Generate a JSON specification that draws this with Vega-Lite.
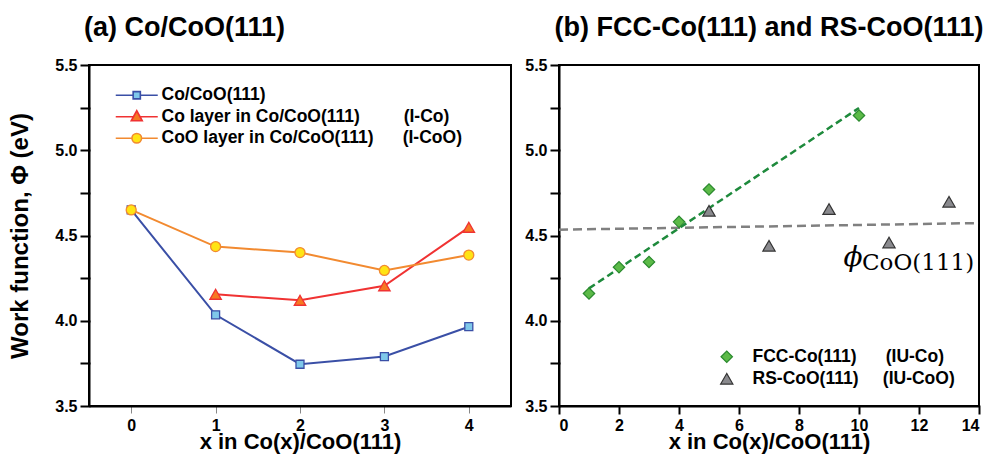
{
  "$schema": "https://vega.github.io/schema/vega-lite/v6.json",
  "background": "white",
  "padding": {"left": 7, "top": 13, "right": 5, "bottom": 5},
  "spacing": 11,
  "resolve": {
    "scale": {"color": "independent", "shape": "independent", "fill": "independent", "stroke": "independent", "size": "independent"},
    "legend": {"color": "independent", "shape": "independent", "fill": "independent", "stroke": "independent", "size": "independent"}
  },
  "config": {
    "view": {"stroke": "black", "strokeWidth": 2},
    "font": "Liberation Sans",
    "axis": {
      "domainColor": "black", "domainWidth": 2,
      "grid": false, "labelFont": "Liberation Sans", "labelFontWeight": "bold", "labelFontSize": 16,
      "labelColor": "black", "titleFont": "Liberation Sans", "titleFontWeight": "bold", "titleColor": "black",
      "labelPadding": 4
    },
    "title": {"font": "Liberation Sans", "fontWeight": "bold", "fontSize": 27, "color": "black", "baseline": "alphabetic", "offset": 15, "frame": "group"}
  },
  "datasets": {
    "left": [
      {"x": 0, "y": 4.65, "series": "Co/CoO(111)"},
      {"x": 1, "y": 4.035, "series": "Co/CoO(111)"},
      {"x": 2, "y": 3.745, "series": "Co/CoO(111)"},
      {"x": 3, "y": 3.79, "series": "Co/CoO(111)"},
      {"x": 4, "y": 3.965, "series": "Co/CoO(111)"},
      {"x": 1, "y": 4.155, "series": "Co layer in Co/CoO(111)"},
      {"x": 2, "y": 4.12, "series": "Co layer in Co/CoO(111)"},
      {"x": 3, "y": 4.205, "series": "Co layer in Co/CoO(111)"},
      {"x": 4, "y": 4.548, "series": "Co layer in Co/CoO(111)"},
      {"x": 0, "y": 4.65, "series": "CoO layer in Co/CoO(111)"},
      {"x": 1, "y": 4.435, "series": "CoO layer in Co/CoO(111)"},
      {"x": 2, "y": 4.4, "series": "CoO layer in Co/CoO(111)"},
      {"x": 3, "y": 4.295, "series": "CoO layer in Co/CoO(111)"},
      {"x": 4, "y": 4.385, "series": "CoO layer in Co/CoO(111)"}
    ],
    "right": [
      {"x": 1, "y": 4.16, "series": "FCC-Co(111)"},
      {"x": 2, "y": 4.314, "series": "FCC-Co(111)"},
      {"x": 3, "y": 4.345, "series": "FCC-Co(111)"},
      {"x": 4, "y": 4.58, "series": "FCC-Co(111)"},
      {"x": 5, "y": 4.77, "series": "FCC-Co(111)"},
      {"x": 10, "y": 5.204, "series": "FCC-Co(111)"},
      {"x": 5, "y": 4.645, "series": "RS-CoO(111)"},
      {"x": 7, "y": 4.44, "series": "RS-CoO(111)"},
      {"x": 9, "y": 4.655, "series": "RS-CoO(111)"},
      {"x": 11, "y": 4.459, "series": "RS-CoO(111)"},
      {"x": 13, "y": 4.698, "series": "RS-CoO(111)"}
    ],
    "philine": [
      {"x": 0, "y": 4.534},
      {"x": 14, "y": 4.573}
    ],
    "notes": [
      {"part": "phi", "label": "ϕ"},
      {"part": "sub", "label": "CoO(111)"}
    ]
  },
  "hconcat": [
    {
      "width": 422,
      "height": 341,
      "title": {"text": "(a) Co/CoO(111)", "anchor": "start", "dx": -5},
      "data": {"name": "left"},
      "encoding": {
        "x": {"field": "x", "type": "quantitative",
          "scale": {"domain": [-0.5, 4.5], "nice": false, "zero": false},
          "axis": {"values": [0, 1, 2, 3, 4], "tickSize": 7,
            "labelPadding": 4, "title": "x in Co(x)/CoO(111)", "titleFontSize": 22, "titlePadding": -2}},
        "y": {"field": "y", "type": "quantitative",
          "scale": {"domain": [3.5, 5.5], "nice": false, "zero": false},
          "axis": {"values": [3.5, 3.75, 4, 4.25, 4.5, 4.75, 5, 5.25, 5.5],
            "labelExpr": "(datum.value * 4) % 2 == 0 ? format(datum.value, '.1f') : ''",
            "ticks": true, "tickSize": 8, "tickColor": "#000000", "tickWidth": 2, "tickCap": "square",
            "title": "Work function, Φ (eV)", "titleFontSize": 24, "titlePadding": 22}}
      },
      "layer": [
        {
          "mark": {"type": "line", "strokeWidth": 2},
          "encoding": {
            "color": {"field": "series", "type": "nominal",
              "scale": {"domain": ["Co/CoO(111)", "Co layer in Co/CoO(111)", "CoO layer in Co/CoO(111)"], "range": ["#3a4fa6", "#f03232", "#f28a30"]},
              "legend": {
                "title": null, "orient": "none", "legendX": 39, "legendY": 21.5, "padding": 0,
                "symbolSize": 64, "symbolStrokeWidth": 1.5, "labelOffset": 16, "rowPadding": 2.5,
                "labelFont": "Liberation Sans", "labelFontSize": 17.5, "labelFontWeight": "bold", "labelColor": "black", "labelLimit": 400,
                "labelExpr": "datum.value == 'Co layer in Co/CoO(111)' ? datum.value + '\u00a0\u00a0\u00a0\u00a0\u00a0\u00a0\u00a0\u00a0\u00a0(I-Co)' : datum.value == 'CoO layer in Co/CoO(111)' ? datum.value + '\u00a0\u00a0\u00a0\u00a0\u00a0\u00a0(I-CoO)' : datum.value",
                "encode": {"symbols": {"update": {
                  "shape": {"signal": "datum.value == 'Co/CoO(111)' ? 'M-5.25,0H-0.9M0.9,0H5.25M-0.9,-0.9H0.9V0.9H-0.9Z' : datum.value == 'Co layer in Co/CoO(111)' ? 'M-5.25,0H-0.825M0.825,0H5.25M0,-1.5L1.375,1L-1.375,1Z' : 'M-5.25,0H-1.2M1.2,0H5.25M-1.2,0A1.2,1.2,0,1,1,1.2,0A1.2,1.2,0,1,1,-1.2,0Z'"},
                  "fill": {"signal": "datum.value == 'Co/CoO(111)' ? '#7fc8ea' : datum.value == 'Co layer in Co/CoO(111)' ? '#f57a22' : '#ffe414'"},
                  "stroke": {"signal": "datum.value == 'Co/CoO(111)' ? '#3a4fa6' : datum.value == 'Co layer in Co/CoO(111)' ? '#f03232' : '#f28a30'"},
                  "strokeWidth": {"value": 1.6},
                  "size": {"value": 64},
                  "fillOpacity": {"value": 1},
                  "strokeOpacity": {"value": 1},
                  "opacity": {"value": 1}
                }}}
              }}
          }
        },
        {
          "mark": {"type": "point", "filled": true, "opacity": 1, "strokeWidth": 1.3},
          "encoding": {
            "shape": {"field": "series", "type": "nominal", "legend": null,
              "scale": {"domain": ["CoO layer in Co/CoO(111)", "Co layer in Co/CoO(111)", "Co/CoO(111)"], "range": ["circle", "triangle-up", "square"]}},
            "size": {"field": "series", "type": "nominal", "legend": null,
              "scale": {"type": "ordinal", "domain": ["CoO layer in Co/CoO(111)", "Co layer in Co/CoO(111)", "Co/CoO(111)"], "range": [100, 130, 64]}},
            "fill": {"field": "series", "type": "nominal", "legend": null,
              "scale": {"domain": ["CoO layer in Co/CoO(111)", "Co layer in Co/CoO(111)", "Co/CoO(111)"], "range": ["#ffe414", "#f57a22", "#7fc8ea"]}},
            "stroke": {"field": "series", "type": "nominal", "legend": null,
              "scale": {"domain": ["CoO layer in Co/CoO(111)", "Co layer in Co/CoO(111)", "Co/CoO(111)"], "range": ["#f28a30", "#f03232", "#3a4fa6"]}}
          }
        }
      ]
    },
    {
      "width": 420,
      "height": 341,
      "title": {"text": "(b) FCC-Co(111) and RS-CoO(111)", "anchor": "middle", "dx": 0},
      "layer": [
        {
          "data": {"name": "philine"},
          "mark": {"type": "line", "color": "#808080", "strokeWidth": 2.5, "strokeDash": [9, 5]},
          "encoding": {
            "x": {"field": "x", "type": "quantitative",
              "scale": {"domain": [0, 14], "nice": false, "zero": false},
              "axis": {"values": [0, 2, 4, 6, 8, 10, 12, 14], "tickSize": 7, "tickColor": "#000000", "tickWidth": 2, "tickCap": "square",
                "labelPadding": 4, "title": "x in Co(x)/CoO(111)", "titleFontSize": 22, "titlePadding": -2}},
            "y": {"field": "y", "type": "quantitative",
              "scale": {"domain": [3.5, 5.5], "nice": false, "zero": false},
              "axis": {"values": [3.5, 3.75, 4, 4.25, 4.5, 4.75, 5, 5.25, 5.5],
                "labelExpr": "(datum.value * 4) % 2 == 0 ? format(datum.value, '.1f') : ''",
                "ticks": true, "tickSize": 8, "tickColor": "#000000", "tickWidth": 2, "tickCap": "square", "title": null}}
          }
        },
        {
          "data": {"name": "right"},
          "transform": [
            {"filter": "datum.series == 'FCC-Co(111)'"},
            {"regression": "y", "on": "x", "extent": [1, 10]}
          ],
          "mark": {"type": "line", "color": "#1e8a3c", "strokeWidth": 2.5, "strokeDash": [7, 4]},
          "encoding": {
            "x": {"field": "x", "type": "quantitative"},
            "y": {"field": "y", "type": "quantitative"}
          }
        },
        {
          "data": {"name": "right"},
          "mark": {"type": "point", "filled": true, "opacity": 1, "strokeWidth": 1.2},
          "encoding": {
            "x": {"field": "x", "type": "quantitative"},
            "y": {"field": "y", "type": "quantitative"},
            "color": {"field": "series", "type": "nominal",
              "scale": {"domain": ["FCC-Co(111)", "RS-CoO(111)"], "range": ["#5cba48", "#8a8a8e"]},
              "legend": {
                "title": null, "orient": "none", "legendX": 159, "legendY": 283, "padding": 0,
                "symbolSize": 110, "symbolStrokeWidth": 1.2, "labelOffset": 17, "rowPadding": 3,
                "labelFont": "Liberation Sans", "labelFontSize": 17.5, "labelFontWeight": "bold", "labelColor": "black", "labelLimit": 400,
                "labelExpr": "datum.value == 'FCC-Co(111)' ? datum.value + '\u00a0\u00a0\u00a0\u00a0\u00a0\u00a0(IU-Co)' : datum.value + '\u00a0\u00a0\u00a0\u00a0\u00a0(IU-CoO)'",
                "encode": {"symbols": {"update": {
                  "shape": {"signal": "datum.value == 'FCC-Co(111)' ? 'diamond' : 'triangle-up'"},
                  "fill": {"signal": "datum.value == 'FCC-Co(111)' ? '#5cba48' : '#8a8a8e'"},
                  "stroke": {"signal": "datum.value == 'FCC-Co(111)' ? '#2a8a2e' : '#333333'"},
                  "strokeWidth": {"value": 1.2},
                  "fillOpacity": {"value": 1},
                  "strokeOpacity": {"value": 1},
                  "opacity": {"value": 1}
                }}}
              }},
            "shape": {"field": "series", "type": "nominal", "legend": null,
              "scale": {"domain": ["FCC-Co(111)", "RS-CoO(111)"], "range": ["diamond", "triangle-up"]}},
            "size": {"field": "series", "type": "nominal", "legend": null,
              "scale": {"type": "ordinal", "domain": ["FCC-Co(111)", "RS-CoO(111)"], "range": [130, 150]}},
            "stroke": {"field": "series", "type": "nominal", "legend": null,
              "scale": {"domain": ["FCC-Co(111)", "RS-CoO(111)"], "range": ["#2a8a2e", "#333333"]}}
          }
        },
        {
          "data": {"name": "notes"},
          "transform": [{"filter": "datum.part == 'phi'"}],
          "mark": {"type": "text", "font": "DejaVu Serif", "fontStyle": "italic", "fontSize": 28, "align": "center", "baseline": "alphabetic", "color": "black"},
          "encoding": {"text": {"field": "label", "type": "nominal"}, "x": {"datum": 9.8, "type": "quantitative"}, "y": {"datum": 4.32, "type": "quantitative"}}
        },
        {
          "data": {"name": "notes"},
          "transform": [{"filter": "datum.part == 'sub'"}],
          "mark": {"type": "text", "font": "DejaVu Serif", "fontSize": 23, "align": "left", "baseline": "alphabetic", "color": "black"},
          "encoding": {"text": {"field": "label", "type": "nominal"}, "x": {"datum": 10.1, "type": "quantitative"}, "y": {"datum": 4.30, "type": "quantitative"}}
        }
      ]
    }
  ]
}
